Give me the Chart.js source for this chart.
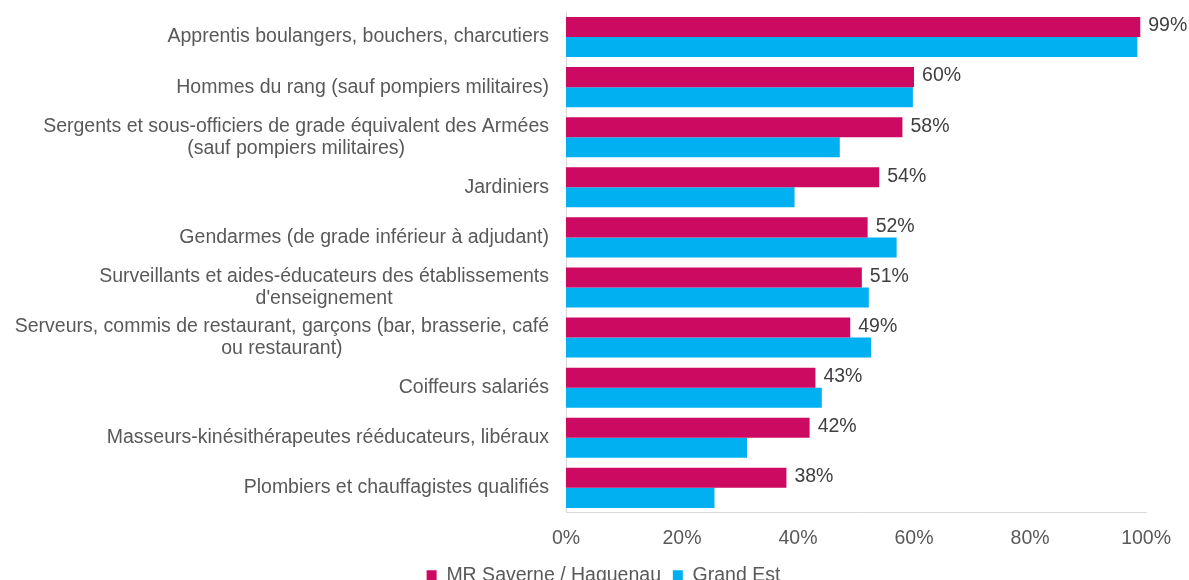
<!DOCTYPE html>
<html>
<head>
<meta charset="utf-8">
<script src="https://cdn.jsdelivr.net/npm/chart.js@4"></script>
<style>
  html, body { margin: 0; padding: 0; background: #fff; overflow: hidden; }
  #wrap { position: absolute; left: 0; top: 0; width: 1189px; height: 595px; }
</style>
</head>
<body>
<div id="wrap"><canvas id="chart"></canvas></div>
<script>
const categories = [
  'Apprentis boulangers, bouchers, charcutiers',
  'Hommes du rang (sauf pompiers militaires)',
  ['Sergents et sous-officiers de grade équivalent des Armées', '(sauf pompiers militaires)'],
  'Jardiniers',
  'Gendarmes (de grade inférieur à adjudant)',
  ['Surveillants et aides-éducateurs des établissements', "d'enseignement"],
  ['Serveurs, commis de restaurant, garçons (bar, brasserie, café', 'ou restaurant)'],
  'Coiffeurs salariés',
  'Masseurs-kinésithérapeutes rééducateurs, libéraux',
  'Plombiers et chauffagistes qualifiés'
];
const saverne = [99, 60, 58, 54, 52, 51, 49, 43, 42, 38];
const grandEst = [98.5, 59.8, 47.2, 39.4, 57, 52.2, 52.6, 44.1, 31.2, 25.6];
const xTicks = [0, 20, 40, 60, 80, 100];

const FONT = '"Liberation Sans", Arial, sans-serif';
const FS = 19.5;
const TEXT = '#595959';

// y labels drawn by hand so the wrapped lines are centred on each other
const yLabels = {
  id: 'yLabels',
  afterDraw(chart) {
    const ctx = chart.ctx;
    const y = chart.scales.y;
    const right = y.right - 17;
    ctx.save();
    ctx.font = FS + 'px ' + FONT;
    ctx.fillStyle = TEXT;
    ctx.textBaseline = 'middle';
    ctx.textAlign = 'center';
    categories.forEach((lab, i) => {
      const lines = Array.isArray(lab) ? lab : [lab];
      const w = Math.max(...lines.map(l => ctx.measureText(l).width));
      const cx = right - w / 2;
      const cy = y.getPixelForValue(i);
      const lh = 22;
      lines.forEach((l, k) => {
        ctx.fillText(l, cx, cy + (k - (lines.length - 1) / 2) * lh);
      });
    });
    ctx.restore();
  }
};

const valueLabels = {
  id: 'valueLabels',
  afterDatasetsDraw(chart) {
    const ctx = chart.ctx;
    const meta = chart.getDatasetMeta(0);
    ctx.save();
    ctx.font = FS + 'px ' + FONT;
    ctx.fillStyle = '#404040';
    ctx.textBaseline = 'middle';
    ctx.textAlign = 'left';
    meta.data.forEach((bar, i) => {
      ctx.fillText(saverne[i] + '%', bar.x + 8, bar.y - 1);
    });
    ctx.restore();
  }
};

new Chart(document.getElementById('chart'), {
  type: 'bar',
  data: {
    labels: categories,
    datasets: [
      {
        label: 'MR Saverne / Haguenau',
        data: saverne,
        backgroundColor: '#CC0A62'
      },
      {
        label: 'Grand Est',
        data: grandEst,
        backgroundColor: '#00B0F0'
      }
    ]
  },
  options: {
    indexAxis: 'y',
    responsive: true,
    maintainAspectRatio: false,
    animation: false,
    layout: { padding: { top: 12, right: 0, left: 18, bottom: 0 } },
    datasets: {
      bar: { categoryPercentage: 0.8, barPercentage: 1.0 }
    },
    scales: {
      x: {
        min: 0,
        max: 100,
        afterBuildTicks(scale) {
          scale.ticks = xTicks.map(v => ({ value: v }));
        },
        grid: { display: false, drawTicks: false },
        border: { display: true, color: '#D9D9D9', width: 1 },
        ticks: {
          padding: 18,
          color: TEXT,
          font: { family: FONT, size: FS, lineHeight: 0.8 },
          callback: v => v + '%'
        }
      },
      y: {
        afterFit(scale) { scale.width = 548; },
        grid: { display: false, drawTicks: false },
        border: { display: true, color: '#D9D9D9', width: 1 },
        ticks: { display: false }
      },
      yRight: {
        axis: 'y',
        type: 'category',
        position: 'right',
        afterFit(scale) { scale.width = 42; },
        grid: { display: false, drawTicks: false },
        border: { display: false },
        ticks: { display: false }
      }
    },
    plugins: {
      tooltip: { enabled: false },
      legend: {
        position: 'bottom',
        labels: {
          color: TEXT,
          font: { family: FONT, size: FS },
          boxWidth: 10,
          boxHeight: 10,
          padding: 1,
          generateLabels(chart) {
            const items = Chart.defaults.plugins.legend.labels.generateLabels(chart);
            items[0].text += '  ';
            return items;
          }
        }
      }
    }
  },
  plugins: [yLabels, valueLabels]
});
</script>
</body>
</html>
